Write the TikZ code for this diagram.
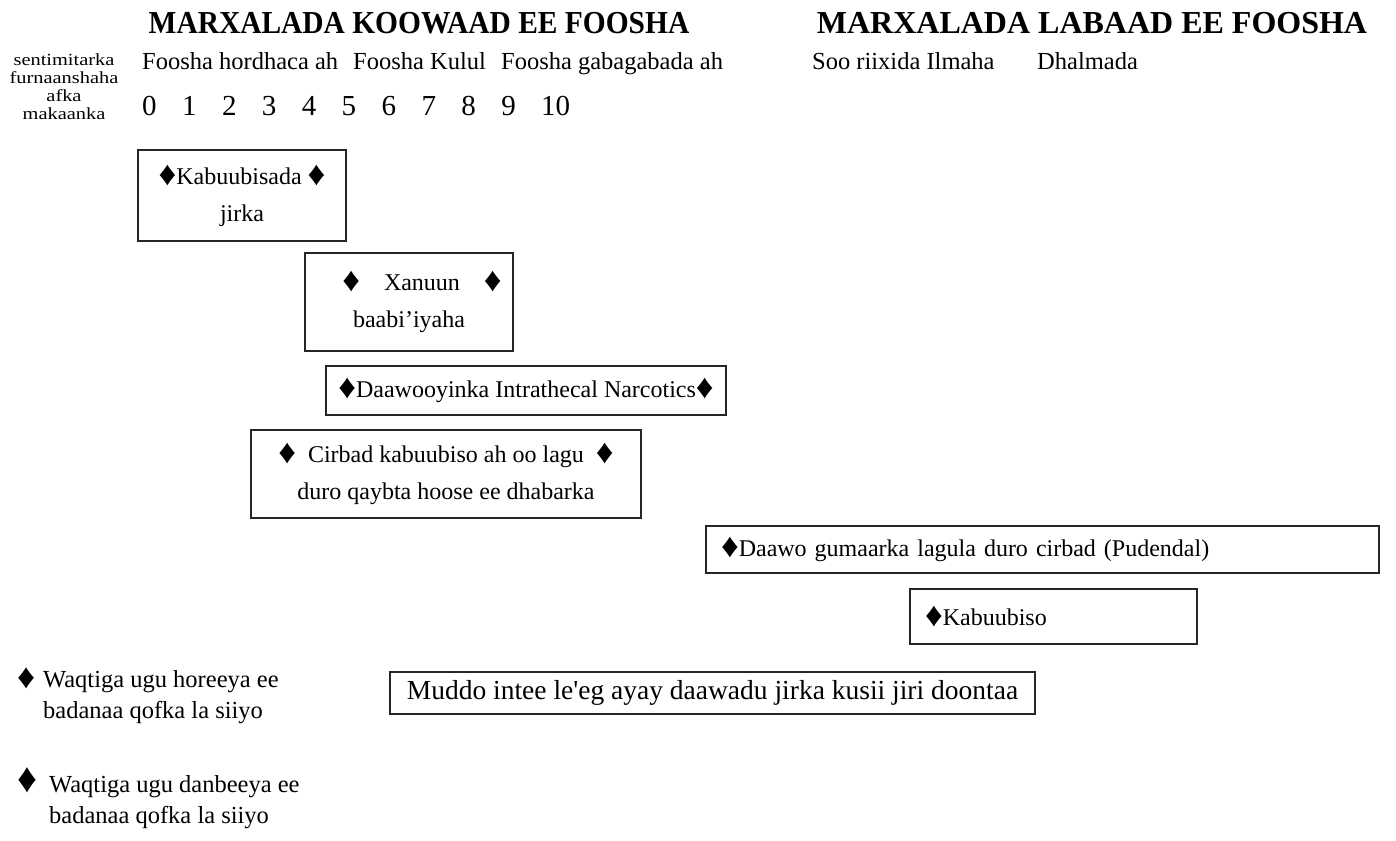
\documentclass[tikz,border=0pt]{standalone}
\usepackage{fontspec}
\usepackage{graphicx}
\newfontfamily\bodyfont{Liberation Serif}
\newfontfamily\titlefont[FakeStretch=0.92]{Liberation Serif}
\newfontfamily\widefont[FakeStretch=1.2]{Liberation Serif}
\usetikzlibrary{positioning}
\newcommand{\dia}{\raisebox{-1pt}{\scalebox{1.45}[1.42]{♦}}}
\tikzstyle{stagebox}=[draw=black!85, line width=1.3pt, inner sep=0pt, align=center, font=\bodyfont\fontsize{24}{37}\selectfont]
\tikzstyle{leftbox}=[stagebox, align=left, inner xsep=15pt]
\tikzstyle{phasetitle}=[inner sep=0pt, font=\titlefont\bfseries\fontsize{32}{36}\selectfont]
\tikzstyle{phaselabel}=[inner sep=0pt, anchor=base west, font=\bodyfont\fontsize{24.5}{26}\selectfont]
\tikzstyle{cmmark}=[inner sep=0pt, anchor=base west, font=\bodyfont\fontsize{29}{30}\selectfont]
\tikzstyle{keytext}=[inner sep=0pt, anchor=base west, align=left, font=\bodyfont\fontsize{24.5}{31}\selectfont]

\begin{document}
\begin{tikzpicture}[x=1pt,y=-1pt]
    \useasboundingbox (0,0) rectangle (1396,840);

    % headings
    \node[phasetitle] (stage1) at (419,23) {MARXALADA KOOWAAD EE FOOSHA};
    \node[phasetitle, font=\bodyfont\bfseries\fontsize{32}{36}\selectfont] (stage2) at (1092,23) {MARXALADA LABAAD EE FOOSHA};

    \node[inner sep=0pt, align=center, font=\widefont\fontsize{17}{18}\selectfont] (cmlabel) at (64,87)
        {sentimitarka\\furnaanshaha\\afka\\makaanka};

    \node[phaselabel] (early) at (142,70) {Foosha hordhaca ah};
    \node[phaselabel] (active) at (353,70) {Foosha Kulul};
    \node[phaselabel] (transit) at (501,70) {Foosha gabagabada ah};
    \node[phaselabel] (push) at (812,70) {Soo riixida Ilmaha};
    \node[phaselabel] (birth) at (1037,70) {Dhalmada};

    % dilation scale
    \foreach \n in {0,...,10}
        \node[cmmark] (cm\n) at (142+39.9*\n,116) {\n};

    % methods
    \begin{scope}[every node/.style={stagebox}]
        \node[minimum width=208pt, minimum height=91pt] (body) at (242,195.5)
            {\dia Kabuubisada \dia\\jirka};
        \node[minimum width=208pt, minimum height=98pt] (pain) at (409,302)
            {\hspace*{26pt}\dia\quad Xanuun\quad\dia\\baabi’iyaha};
        \node[minimum width=400pt, minimum height=49pt] (intra) at (526,390.5)
            {\dia Daawooyinka Intrathecal Narcotics\dia};
        \node[minimum width=390pt, minimum height=88pt] (epidural) at (446,474)
            {\dia\ \ Cirbad kabuubiso ah oo lagu\ \ \dia\\duro qaybta hoose ee dhabarka};
        \node[minimum width=645pt, minimum height=42pt, font=\bodyfont\fontsize{27.5}{30}\selectfont] (duration) at (712.5,693)
            {Muddo intee le'eg ayay daawadu jirka kusii jiri doontaa};
    \end{scope}

    \begin{scope}[every node/.style={leftbox}]
        \node[text width=643pt, minimum height=47pt] (pudendal) at (1042.5,549.5)
            {\dia Daawo gumaarka lagula duro cirbad (Pudendal)};
        \node[text width=257pt, minimum height=55pt] (local) at (1053.5,616.5)
            {\dia Kabuubiso};
    \end{scope}

    % key
    \node[keytext] (mark1) at (17,687) {\dia};
    \node[keytext] (earliest) at (43,718) {Waqtiga ugu horeeya ee\\badanaa qofka la siiyo};
    \node[keytext] (mark2) at (17,791) {\scalebox{1.1}[1.2]{\dia}};
    \node[keytext] (latest) at (49,823) {Waqtiga ugu danbeeya ee\\badanaa qofka la siiyo};
\end{tikzpicture}
\end{document}
